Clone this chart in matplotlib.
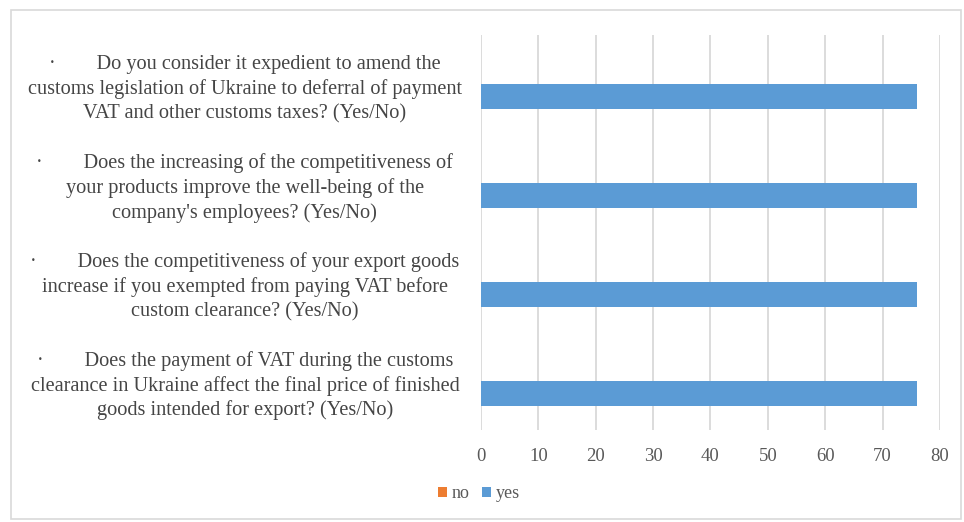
import matplotlib.pyplot as plt
from matplotlib.patches import Rectangle
import numpy as np

plt.rcParams['font.family'] = ['Liberation Serif', 'DejaVu Serif']

# Survey questions, listed bottom to top as they appear on the axis
questions = [
    "·        Does the payment of VAT during the customs\nclearance in Ukraine affect the final price of finished\ngoods intended for export? (Yes/No)",
    "·        Does the competitiveness of your export goods\nincrease if you exempted from paying VAT before\ncustom clearance? (Yes/No)",
    "·        Does the increasing of the competitiveness of\nyour products improve the well-being of the\ncompany's employees? (Yes/No)",
    "·        Do you consider it expedient to amend the\ncustoms legislation of Ukraine to deferral of payment\nVAT and other customs taxes? (Yes/No)",
]
no_values = [0, 0, 0, 0]
yes_values = [76, 76, 76, 76]
x_ticks = [0, 10, 20, 30, 40, 50, 60, 70, 80]

fig = plt.figure(figsize=(9.64, 5.22), dpi=100)
ax = fig.add_axes([0.499, 0.176, 0.476, 0.757])

y = np.arange(len(questions))
h = 0.254
ax.barh(y + h / 2, no_values, height=h, color='#ed7d31', label='no', zorder=3)
ax.barh(y - h / 2, yes_values, height=h, color='#5b9bd5', label='yes', zorder=3)

ax.set_xlim(0, 80)
ax.set_ylim(-0.5, len(questions) - 0.5)
ax.set_xticks(x_ticks)
ax.set_xticklabels([str(t) for t in x_ticks], fontsize=13.5, color='#595959')
ax.set_yticks(y)
ax.set_yticklabels(questions, fontsize=14.6, color='#454545', ha='center',
                   linespacing=1.33)
ax.tick_params(axis='y', length=0, pad=170)
ax.tick_params(axis='x', length=0, pad=13)
ax.grid(axis='x', color='#d9d9d9', linewidth=1.3, zorder=0)
for s in ax.spines.values():
    s.set_visible(False)

leg = fig.legend(loc='center', bbox_to_anchor=(0.497, 0.054), ncol=2, frameon=False,
                 fontsize=13, handlelength=0.5, handleheight=0.5, handletextpad=0.25,
                 columnspacing=0.7)
for t in leg.get_texts():
    t.set_color('#595959')

fig.patches.append(Rectangle((11 / 964, 3 / 522), 950 / 964, 509 / 522,
                             transform=fig.transFigure, fill=False,
                             edgecolor='#d9d9d9', linewidth=1.2))

fig.savefig('out.png', dpi=100, facecolor='white')
